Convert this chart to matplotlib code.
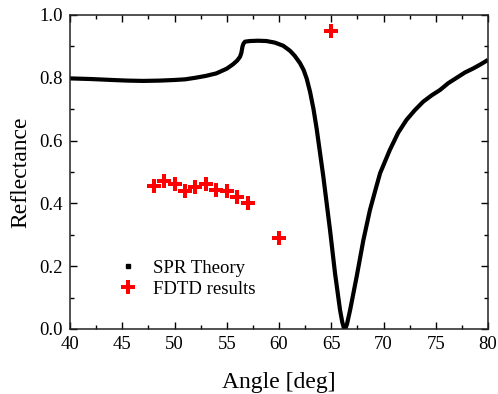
import matplotlib
matplotlib.use('Agg')
import matplotlib.pyplot as plt
from matplotlib.lines import Line2D
from matplotlib.ticker import MultipleLocator, FormatStrFormatter

plt.rcParams['font.family'] = ['Liberation Serif', 'DejaVu Serif']

# SPR theory curve
spr_angle = [40.0, 42.0, 44.0, 45.5, 47.0, 48.6, 50.0, 51.0, 52.0, 53.0, 54.0,
             55.0, 55.6, 56.0, 56.27, 56.4, 56.5, 56.6, 56.75, 57.2, 58.0, 58.8,
             59.6, 60.4, 61.05, 61.5, 62.0, 62.35, 62.65, 62.97, 63.3, 63.6, 64.24,
             64.88, 65.36, 65.84, 66.05, 66.2, 66.35, 66.5, 66.8, 67.43, 68.07, 68.7,
             69.2, 69.67, 70.6, 71.4, 72.2, 73.0, 73.8, 74.6, 75.4, 76.2, 77.0,
             77.8, 78.6, 79.3, 80.0]
spr_refl = [0.798, 0.796, 0.793, 0.791, 0.790, 0.791, 0.793, 0.795, 0.800, 0.806, 0.814,
            0.829, 0.843, 0.855, 0.867, 0.880, 0.899, 0.909, 0.915, 0.917, 0.918, 0.917,
            0.912, 0.902, 0.886, 0.870, 0.847, 0.825, 0.797, 0.755, 0.700, 0.638, 0.485,
            0.315, 0.177, 0.060, 0.022, 0.004, 0.002, 0.015, 0.060, 0.167, 0.283, 0.379,
            0.440, 0.496, 0.570, 0.625, 0.666, 0.697, 0.724, 0.744, 0.761, 0.783, 0.800,
            0.817, 0.830, 0.843, 0.857]

# FDTD results
fdtd_angle = [48, 49, 50, 51, 52, 53, 54, 55, 56, 57, 60, 65]
fdtd_refl = [0.455, 0.472, 0.461, 0.440, 0.451, 0.462, 0.443, 0.440, 0.421, 0.400, 0.289, 0.949]

fig = plt.figure(figsize=(4.98, 3.94), dpi=100)
ax = fig.add_axes([0.1406, 0.165, 0.8394, 0.797])

ax.plot(spr_angle, spr_refl, color='black', lw=3.0, solid_capstyle='butt',
        solid_joinstyle='round', zorder=2)
ax.plot(fdtd_angle, fdtd_refl, linestyle='none', marker='P', ms=10, color='red',
        markeredgewidth=0, zorder=3)

ax.set_xlim(40, 80)
ax.set_ylim(0, 1.0)
ax.xaxis.set_major_locator(MultipleLocator(5))
ax.xaxis.set_minor_locator(MultipleLocator(2.5))
ax.yaxis.set_major_locator(MultipleLocator(0.2))
ax.yaxis.set_minor_locator(MultipleLocator(0.1))
ax.yaxis.set_major_formatter(FormatStrFormatter('%.1f'))
ax.tick_params(which='both', direction='in', top=True, right=True, labelsize=13.5, width=1)
ax.tick_params(which='major', length=5, pad=5)
ax.tick_params(which='minor', length=3)
for s in ax.spines.values():
    s.set_linewidth(1.1)
    s.set_color('#222222')

ax.set_xlabel('Angle [deg]', fontsize=17, labelpad=14)
ax.set_ylabel('Reflectance', fontsize=17, labelpad=6)

handles = [Line2D([], [], linestyle='none', marker='s', ms=3, color='black'),
           Line2D([], [], linestyle='none', marker='P', ms=10, color='red', markeredgewidth=0)]
ax.legend(handles, ['SPR Theory', 'FDTD results'], loc='lower left',
          bbox_to_anchor=(0.116, 0.099), frameon=False, fontsize=13.5,
          handletextpad=0.85, labelspacing=0.2, handlelength=1.0,
          borderpad=0, borderaxespad=0)

fig.savefig('out.png', dpi=100)
